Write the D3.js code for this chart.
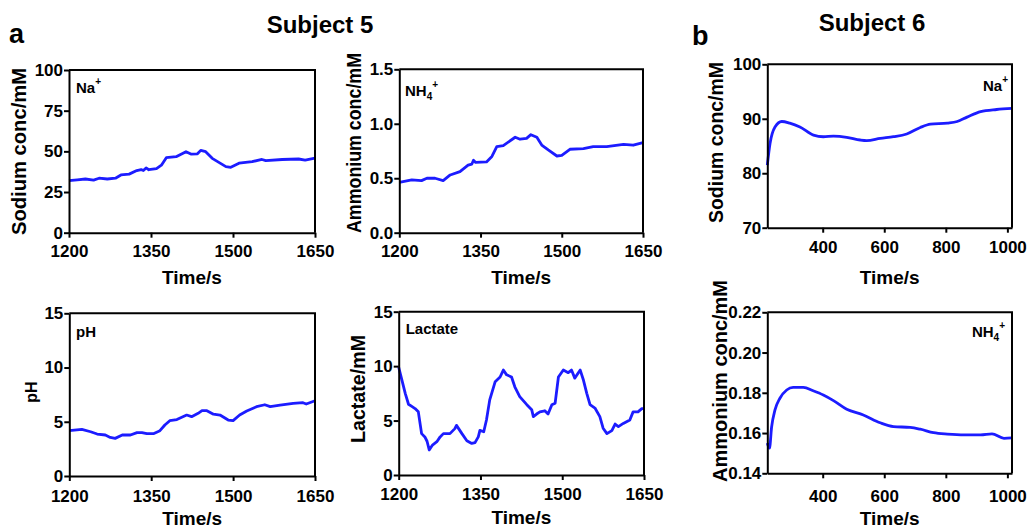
<!DOCTYPE html>
<html>
<head>
<meta charset="utf-8">
<script src="https://cdn.jsdelivr.net/npm/d3@7/dist/d3.min.js"></script>
<style>
  body { margin: 0; background: #fff; }
  svg text { font-family: "Liberation Sans", Arial, sans-serif; font-weight: bold; fill: #000; }
</style>
</head>
<body>
<svg id="fig" width="1030" height="529"></svg>
<script>
// ---- data (time in s, value) ----
const na5 = [[1200,32],[1215,32.5],[1230,33],[1245,32.3],[1255,33.5],[1270,33],[1285,33.5],[1295,35.5],[1310,36],
  [1324,38.2],[1332,38.8],[1336,38.2],[1341,39.8],[1346,38.7],[1360,39.4],[1369,41.5],[1378,46.1],[1396,46.7],
  [1414,49.8],[1423,48.3],[1435,48.5],[1441,50.6],[1450,49.8],[1462,45.7],[1487,40.6],[1496,40.2],[1511,42.7],
  [1535,43.7],[1553,45],[1560,44.3],[1590,45],[1620,45.3],[1632,44.6],[1650,45.8]];
const nh5 = [[1200,0.463],[1223,0.484],[1241,0.478],[1251,0.5],[1266,0.5],[1281,0.478],[1294,0.53],[1312,0.56],
  [1327,0.62],[1334,0.63],[1337,0.665],[1341,0.645],[1361,0.65],[1371,0.7],[1380,0.79],[1392,0.8],[1414,0.876],
  [1423,0.858],[1435,0.866],[1443,0.9],[1454,0.876],[1463,0.805],[1475,0.76],[1491,0.704],[1500,0.71],[1515,0.766],
  [1540,0.772],[1558,0.79],[1583,0.79],[1614,0.81],[1632,0.803],[1650,0.826]];
const ph5 = [[1200,4.18],[1223,4.3],[1239,4.08],[1251,3.87],[1266,3.78],[1275,3.56],[1284,3.47],[1297,3.78],
  [1312,3.78],[1324,4.0],[1333,4.0],[1342,3.9],[1354,3.9],[1366,4.18],[1375,4.7],[1384,5.1],[1397,5.2],[1415,5.62],
  [1424,5.47],[1436,5.78],[1443,6.02],[1452,6.02],[1464,5.7],[1476,5.62],[1491,5.16],[1500,5.1],[1512,5.62],
  [1525,5.99],[1543,6.39],[1558,6.57],[1568,6.39],[1586,6.54],[1610,6.7],[1628,6.76],[1634,6.64],[1650,6.94]];
const lac5 = [[1200,9.9],[1205,8.9],[1212,7.5],[1218,6.5],[1224,6.3],[1230,6.1],[1236,5.8],[1242,3.8],[1248,3.5],
  [1252,3.1],[1256,2.3],[1262,2.75],[1270,3.06],[1276,3.5],[1282,3.8],[1294,3.8],[1303,4.26],[1306,4.56],
  [1316,3.8],[1325,3.15],[1334,2.9],[1340,2.97],[1346,3.5],[1349,4.1],[1356,3.97],[1361,5.05],[1367,6.9],
  [1377,8.57],[1386,9.0],[1392,9.64],[1398,9.2],[1407,9.0],[1413,8.1],[1422,7.2],[1435,6.46],[1444,6.0],
  [1447,5.36],[1453,5.6],[1459,5.8],[1468,5.9],[1474,5.6],[1481,6.46],[1487,6.6],[1493,9.0],[1502,9.64],
  [1511,9.4],[1517,9.64],[1523,8.9],[1533,9.64],[1539,8.7],[1545,7.5],[1551,6.46],[1560,6.15],[1569,5.36],
  [1575,4.3],[1582,3.8],[1591,4.08],[1597,4.68],[1603,4.45],[1612,4.74],[1624,5.05],[1630,5.8],[1639,5.8],
  [1646,6.1],[1650,6.1]];
const na6 = [[220,81.5],[229,85.5],[245,88.5],[267,89.5],[293,89.2],[326,88.5],[370,87.0],[402,86.7],[435,86.8],
  [478,86.6],[522,86.1],[543,86.0],[587,86.4],[630,86.7],[673,87.2],[717,88.4],[750,89.0],[805,89.2],[837,89.5],
  [869,90.3],[913,91.3],[965,91.7],[1015,91.9]];
const nh6 = [[220,0.155],[227,0.1525],[234,0.163],[245,0.1715],[261,0.1773],[283,0.1814],[304,0.1827],[337,0.1827],
  [369,0.181],[402,0.1789],[435,0.1761],[478,0.1718],[532,0.169],[587,0.1651],[630,0.1632],[684,0.1628],
  [717,0.1619],[760,0.1602],[805,0.1595],[860,0.1591],[913,0.1591],[950,0.1596],[989,0.1574],[1015,0.1576]];

// ---- ticks ----
const ticksT5 = [1200, 1350, 1500, 1650];
const ticksT6 = [400, 600, 800, 1000];
const ticksNa5 = [0, 25, 50, 75, 100];
const ticksNh5 = [0, 0.5, 1.0, 1.5];
const ticks15 = [0, 5, 10, 15];
const ticksNa6 = [70, 80, 90, 100];
const ticksNh6 = [0.14, 0.16, 0.18, 0.20, 0.22];

const svg = d3.select('#fig');
const blue = '#1c1cff';

const panels = [
  {data: na5, x0: 69, x1: 315, y0: 70, y1: 232.7, xd: [1200,1650], yd: [0,100], xt: ticksT5, yt: ticksNa5, yf: d3.format('d'),
   ytitle: 'Sodium conc/mM', yx: 26, yc: 151.5, yl: 167, xlg: 24.5, xtg: 51, lab: 'Na', labX: 76, labY: 93.3, sup: '+', curve: d3.curveLinear},
  {data: nh5, x0: 399.3, x1: 643, y0: 69.3, y1: 232.7, xd: [1200,1650], yd: [0,1.5], xt: ticksT5, yt: ticksNh5, yf: d3.format('.1f'),
   ytitle: 'Ammonium conc/mM', yx: 361, yc: 143, yl: 180, xlg: 24.5, xtg: 51, lab: 'NH', sub: '4', sup: '+', labX: 405, labY: 96, curve: d3.curveLinear},
  {data: ph5, x0: 69.3, x1: 315, y0: 313.3, y1: 476, xd: [1200,1650], yd: [0,15], xt: ticksT5, yt: ticks15, yf: d3.format('d'),
   ytitle: 'pH', yx: 36.5, yc: 392, yfs: 16, xlg: 25.5, xtg: 48.5, lab: 'pH', labX: 76, labY: 337, curve: d3.curveLinear},
  {data: lac5, x0: 398.7, x1: 644, y0: 311.7, y1: 475, xd: [1200,1650], yd: [0,15], xt: ticksT5, yt: ticks15, yf: d3.format('d'),
   ytitle: 'Lactate/mM', yx: 365, yc: 389, yl: 108, xlg: 25, xtg: 49, lab: 'Lactate', labX: 405.7, labY: 334, curve: d3.curveLinear},
  {data: na6, x0: 767.3, x1: 1012, y0: 64.3, y1: 227.7, xd: [220,1015], yd: [70,100], xt: ticksT6, yt: ticksNa6, yf: d3.format('d'),
   ytitle: 'Sodium conc/mM', yx: 723, yc: 142.5, yl: 161, xlg: 25, xtg: 56, lab: 'Na', sup: '+', labX: 1008, labY: 90.7, right: true, curve: d3.curveMonotoneX},
  {data: nh6, x0: 767.3, x1: 1012, y0: 312.3, y1: 473.3, xd: [220,1015], yd: [0.14,0.22], xt: ticksT6, yt: ticksNh6, yf: d3.format('.2f'),
   ytitle: 'Ammonium conc/mM', yx: 726.5, yc: 381, yl: 202, xlg: 29, xtg: 52, lab: 'NH', sub: '4', sup: '+', labX: 1005, labY: 336.7, right: true, curve: d3.curveMonotoneX}
];

panels.forEach(function(p){
  const x = d3.scaleLinear().domain(p.xd).range([p.x0, p.x1]);
  const y = d3.scaleLinear().domain(p.yd).range([p.y1, p.y0]);
  const g = svg.append('g');

  // data line
  const line = d3.line().x(function(d){ return x(d[0]); }).y(function(d){ return y(d[1]); }).curve(p.curve);
  g.append('path').datum(p.data)
    .attr('d', line)
    .attr('fill', 'none')
    .attr('stroke', blue)
    .attr('stroke-width', 2.8)
    .attr('stroke-linejoin', 'round');

  // frame (top and right)
  g.append('path')
    .attr('d', 'M' + p.x0 + ',' + p.y0 + 'H' + p.x1 + 'V' + p.y1)
    .attr('fill', 'none').attr('stroke', '#000').attr('stroke-width', 2);

  const xAxis = d3.axisBottom(x).tickValues(p.xt).tickSize(5).tickSizeOuter(0).tickPadding(0).tickFormat(d3.format('d'));
  const yAxis = d3.axisLeft(y).tickValues(p.yt).tickSize(5).tickSizeOuter(0).tickPadding(1).tickFormat(p.yf);

  const gx = g.append('g').attr('transform', 'translate(0,' + p.y1 + ')').call(xAxis);
  gx.selectAll('text').attr('dy', null).attr('y', p.xlg).style('font-size', '17px');
  const gy = g.append('g').attr('transform', 'translate(' + p.x0 + ',0)').call(yAxis);
  gy.selectAll('text').style('font-size', '17px');
  [gx, gy].forEach(function(a){
    a.select('.domain').attr('stroke-width', 2);
    a.selectAll('.tick line').attr('stroke-width', 2);
  });

  // axis titles
  g.append('text')
    .attr('x', (p.x0 + p.x1) / 2).attr('y', p.y1 + p.xtg)
    .attr('text-anchor', 'middle').style('font-size', '19px')
    .text('Time/s');
  const yt = g.append('text')
    .attr('transform', 'translate(' + p.yx + ',' + p.yc + ') rotate(-90)')
    .attr('text-anchor', 'middle').style('font-size', (p.yfs || 20) + 'px')
    .text(p.ytitle);
  if(p.yl) yt.attr('textLength', p.yl).attr('lengthAdjust', 'spacingAndGlyphs');

  // inner label
  const lab = g.append('text')
    .attr('x', p.labX).attr('y', p.labY)
    .attr('text-anchor', p.right ? 'end' : 'start')
    .style('font-size', '15px');
  lab.append('tspan').text(p.lab);
  if(p.sub) lab.append('tspan').attr('dy', 4).style('font-size', '10px').text(p.sub);
  if(p.sup) lab.append('tspan').attr('dy', p.sub ? -12 : -8).style('font-size', '10px').text(p.sup);
});

// headings
svg.append('text').attr('x', 320).attr('y', 33).attr('text-anchor', 'middle').style('font-size', '24px').text('Subject 5');
svg.append('text').attr('x', 872).attr('y', 31).attr('text-anchor', 'middle').style('font-size', '24px').text('Subject 6');
svg.append('text').attr('x', 9).attr('y', 43).style('font-size', '27px').text('a');
svg.append('text').attr('x', 692).attr('y', 45).style('font-size', '27px').text('b');
</script>
</body>
</html>
